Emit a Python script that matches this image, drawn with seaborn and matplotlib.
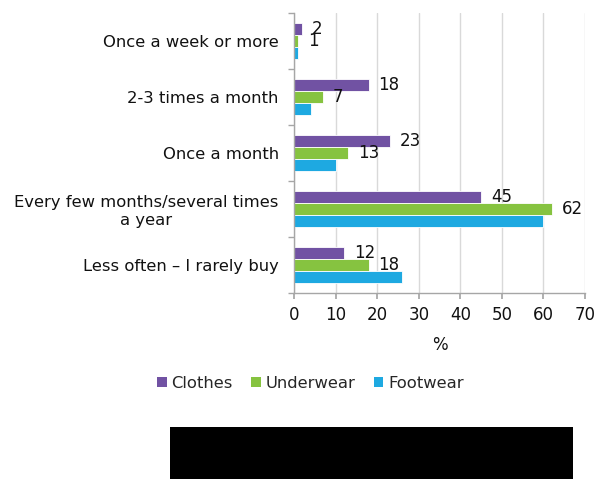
import matplotlib
matplotlib.use("Agg")
import matplotlib.pyplot as plt
from matplotlib.patches import Rectangle
import pandas as pd
import seaborn as sns

categories = [
    "Once a week or more",
    "2-3 times a month",
    "Once a month",
    "Every few months/several times\na year",
    "Less often \u2013 I rarely buy",
]
series_names = ["Clothes", "Underwear", "Footwear"]
clothes = [2, 18, 23, 45, 12]
underwear = [1, 7, 13, 62, 18]
footwear = [1, 4, 10, 60, 26]
x_ticks = [0, 10, 20, 30, 40, 50, 60, 70]

colors = ["#7152A3", "#86C340", "#1EA9E1"]

df = pd.DataFrame({
    "category": categories * 3,
    "series": [s for s in series_names for _ in categories],
    "value": clothes + underwear + footwear,
})

sns.set_theme(style="white")
plt.rcParams["font.family"] = ["DejaVu Sans"]

fig = plt.figure(figsize=(5.97, 4.79), dpi=100)
ax = fig.add_axes([0.4925, 0.3883, 0.4875, 0.5852])

sns.barplot(
    data=df, y="category", x="value", hue="series", order=categories,
    hue_order=series_names, palette=colors, saturation=1, orient="h",
    width=0.64, ax=ax, legend=False, edgecolor="white", linewidth=0.6,
)

# value labels for the first two series only
for cont in ax.containers[:2]:
    ax.bar_label(cont, fmt="%d", padding=7, fontsize=12, color="#111111")

ax.set_xlim(0, 70)
ax.set_xticks(x_ticks)
ax.set_ylim(len(categories) - 0.5, -0.5)
ax.set_xlabel("%", fontsize=12, color="#111111", labelpad=9)
ax.set_ylabel("")
ax.tick_params(axis="x", labelsize=12, colors="#111111", length=4,
               direction="out", bottom=True, color="#A6A6A6", pad=5)
ax.tick_params(axis="y", labelsize=11.8, colors="#111111", length=0, pad=11)
for lab in ax.get_yticklabels():
    lab.set_multialignment("center")

# small outward ticks at category boundaries
ax.set_yticks([i - 0.5 for i in range(len(categories) + 1)], minor=True)
ax.tick_params(axis="y", which="minor", length=4, color="#A6A6A6", left=True)

ax.grid(axis="x", color="#D9D9D9", linewidth=1)
ax.set_axisbelow(True)
for side in ["top", "right"]:
    ax.spines[side].set_visible(False)
for side in ["left", "bottom"]:
    ax.spines[side].set_color("#A6A6A6")
    ax.spines[side].set_linewidth(1)

handles = [Rectangle((0, 0), 1, 1, facecolor=c, edgecolor="none") for c in colors]
fig.legend(handles, series_names, loc="center", bbox_to_anchor=(0.52, 0.2),
           ncol=3, frameon=False, fontsize=11.8, handlelength=0.6,
           handleheight=0.6, handletextpad=0.3, columnspacing=1.1)

fig.patches.append(Rectangle((170 / 597, 0), 403 / 597, 52 / 479,
                             transform=fig.transFigure, facecolor="black",
                             edgecolor="none"))

fig.savefig("out.png", dpi=100)
